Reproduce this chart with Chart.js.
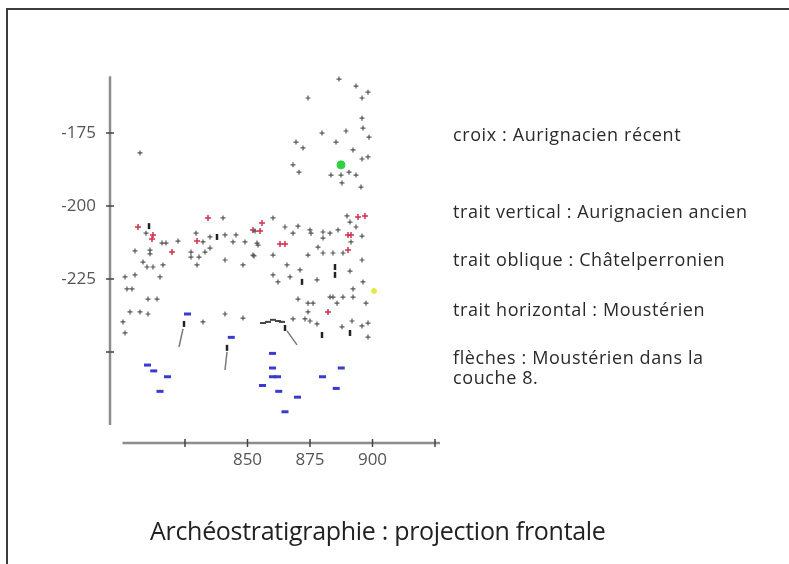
<!DOCTYPE html>
<html lang="fr">
<head>
<meta charset="utf-8">
<title>Archéostratigraphie : projection frontale</title>
<script src="https://cdn.jsdelivr.net/npm/chart.js@4.4.1/dist/chart.umd.min.js"></script>
<style>
  html, body { margin: 0; padding: 0; background: #fff; }
  #wrap { position: relative; width: 789px; height: 564px; overflow: hidden; background: #fff; }
  #wrap canvas { position: absolute; left: 0; top: 0; }
  #frame { position: absolute; left: 6px; top: 8px; right: -4px; bottom: -4px;
           border-top: 2px solid #3c3c3c; border-left: 2px solid #3c3c3c; }
  .note { position: absolute; left: 453px; font: 18px/20px "Open Sans", sans-serif; color: #2a2a2a; white-space: nowrap; letter-spacing: 0.6px; }
  #title { position: absolute; left: 150px; top: 514px; font: 25px/32px "Open Sans", sans-serif; color: #222; white-space: nowrap; letter-spacing: -0.3px; }
</style>
</head>
<body>
<div id="wrap">
  <canvas id="archeoChart"></canvas>
  <div id="frame"></div>
  <div class="note" style="top:124px">croix : Aurignacien récent</div>
  <div class="note" style="top:201px">trait vertical : Aurignacien ancien</div>
  <div class="note" style="top:249px">trait oblique : Châtelperronien</div>
  <div class="note" style="top:299px">trait horizontal : Moustérien</div>
  <div class="note" style="top:347px">flèches : Moustérien dans la<br>couche 8.</div>
  <div id="title">Archéostratigraphie : projection frontale</div>
</div>
<script>
// Axis ticks
const xTickLabels = [850, 875, 900];
const yTickLabels = [-175, -200, -225];
const xTickMarks = [825, 850, 875, 900, 925];
const yTickMarks = [-175, -200, -225, -250];

// Objects, [x, z] pairs
const croix = [
  [886.6, -156.5], [893.4, -158.9], [898.2, -161], [874.2, -163], [895.8, -163],
  [895.8, -169.9], [896.2, -173.3], [879.8, -175], [889.4, -174.3], [898.6, -176.4],
  [869.4, -178.1], [885.4, -178.1], [872.2, -180.1], [898.2, -183.2], [895.8, -183.9],
  [868.2, -185.9], [870.6, -188.4], [883.4, -189.4], [887.4, -189.4], [890.6, -188.4],
  [893.4, -189.4], [887.8, -192.1], [895.4, -193.5], [807, -181.8], [892.2, -180.8],
  [860.2, -204.1], [865, -207.2], [870.2, -206.9], [868.2, -209.3], [875, -208.2],
  [875.4, -209.3], [880.2, -208.9], [883, -209.3], [880.2, -211], [886.2, -208.2],
  [889.8, -203.4], [891, -205.5], [893.4, -207.2], [895.8, -210.3], [891.4, -212.3],
  [888.2, -216.1], [854.2, -213.4], [860.2, -216.8], [852.2, -216.8], [874.2, -216.8],
  [878.2, -214.1], [880.2, -216.1], [884.2, -216.1], [895.8, -218.5], [853, -208.6],
  [809.4, -209.3], [815.8, -212.7], [817.4, -212.7], [822.2, -212], [805, -215.4],
  [811, -215.1], [811, -216.4], [808.2, -219.2], [809.8, -220.9], [812.2, -220.9],
  [816.2, -220.2], [801, -224.3], [805, -223.6], [815, -224.3], [801.8, -228.4],
  [803.8, -228.4], [810.2, -231.9], [813.8, -231.9], [840.2, -204.1], [829.4, -209.3],
  [832.2, -212.3], [835, -210.6], [841, -209.9], [845.4, -209.9], [844.2, -212.3],
  [849, -212.3], [853.8, -212.7], [827.4, -215.8], [827.4, -217.5], [830.6, -217.5],
  [833, -215.8], [835, -214.4], [841, -218.5], [848.2, -220.2], [829.8, -220.2],
  [852.6, -217.1], [865.8, -220.2], [871, -221.9], [891, -222.3], [860.2, -223.6],
  [862.2, -226], [867, -224.3], [877.8, -225.3], [896.2, -226], [892.2, -228.4],
  [870.2, -231.9], [874.2, -233.3], [876.2, -233.3], [883, -231.2], [884.2, -231.2],
  [888.2, -231.2], [892.2, -231.2], [885.8, -233.3], [897.4, -233.3], [874.2, -236.3],
  [868.2, -238.7], [873, -238.7], [875, -239.4], [877.8, -240.4], [891.8, -239.4],
  [887.8, -241.4], [895.8, -241.1], [898.2, -240.1], [898.2, -244.9], [803, -236.3],
  [807, -236.3], [810.2, -237], [800.2, -239.7], [801, -243.5], [832.2, -239.7],
  [841, -237], [848.2, -238.4]
];
const traitsFonces = [
  [810.6, -206.9], [837.8, -210.6], [885, -220.9], [885, -223.6], [871.8, -226],
  [891, -243.5], [879.8, -244.2], [824.6, -240.4], [841.8, -248.6], [865, -241.8]
];
const traitsHorizontaux = [
  [856.2, -240.1], [858.2, -239.7], [860.2, -239], [862.2, -239.4], [863.8, -239.7]
];
const rouges = [
  [806.2, -207.2], [811.8, -211.3], [812.2, -209.9], [819.8, -215.8], [834.2, -204.1],
  [829.8, -212], [852.2, -208.2], [855.8, -205.8], [855, -208.6], [863, -213],
  [865, -213], [894.2, -203.8], [897, -203.4], [890.2, -209.9], [891.4, -209.9],
  [890.2, -215.1], [882.2, -236.3]
];
const couche8 = [
  [810, -254.5], [812.5, -256.5], [818, -258.5], [815, -263.5], [826, -237],
  [843.5, -245], [860, -250.5], [860, -255.5], [860, -258.5], [862, -258.5],
  [856, -261.5], [862.5, -263.5], [870, -265.5], [865, -270.5], [887.5, -255.5],
  [880, -258.5], [885.5, -262.5]
];
const vert = [[887.4, -185.9]];
const jaune = [[900.6, -229.1]];
const fleches = [
  [[822.6, -248.3], [824.2, -242.1]],
  [[841, -256.2], [841.8, -250]],
  [[869.8, -247.6], [865.8, -242.8]]
];

const pts = arr => arr.map(p => ({ x: p[0], y: p[1] }));

// axis lines and crossing tick marks, drawn apart like in the original
const axesLines = {
  id: 'axesLines',
  beforeDatasetsDraw(chart) {
    const { ctx, scales: { x, y } } = chart;
    const left = chart.chartArea.left;
    const bottom = chart.chartArea.bottom;
    ctx.save();
    ctx.strokeStyle = '#8c8c8c';
    ctx.lineWidth = 2.5;
    ctx.beginPath();
    ctx.moveTo(left, y.getPixelForValue(-155.5));
    ctx.lineTo(left, y.getPixelForValue(-275));
    ctx.moveTo(x.getPixelForValue(800), bottom);
    ctx.lineTo(x.getPixelForValue(927), bottom);
    ctx.stroke();
    ctx.strokeStyle = '#444';
    ctx.lineWidth = 1.5;
    ctx.beginPath();
    yTickMarks.forEach(v => {
      const py = y.getPixelForValue(v);
      ctx.moveTo(left - 4, py); ctx.lineTo(left + 4, py);
    });
    xTickMarks.forEach(v => {
      const px = x.getPixelForValue(v);
      ctx.moveTo(px, bottom - 4); ctx.lineTo(px, bottom + 4);
    });
    ctx.stroke();
    ctx.restore();
  }
};

const datasets = [
  ...fleches.map(f => ({
    data: pts(f), showLine: true, pointRadius: 0,
    borderColor: '#7a7a7a', borderWidth: 1.5
  })),
  { data: pts(croix), pointStyle: 'cross', pointRadius: 2.5, borderColor: '#555', borderWidth: 1.2 },
  { data: pts(rouges), pointStyle: 'cross', pointRadius: 3, borderColor: '#d2304e', borderWidth: 1.5 },
  { data: pts(traitsHorizontaux), pointStyle: 'line', pointRadius: 3, borderColor: '#444', borderWidth: 2 },
  { data: pts(traitsFonces), pointStyle: 'line', rotation: 90, pointRadius: 3, borderColor: '#222', borderWidth: 2.5 },
  { data: pts(couche8), pointStyle: 'line', pointRadius: 3.5, borderColor: '#3a3ad0', borderWidth: 3 },
  { data: pts(vert), pointStyle: 'circle', pointRadius: 4, backgroundColor: '#2fd043', borderColor: '#2fd043', borderWidth: 1 },
  { data: pts(jaune), pointStyle: 'circle', pointRadius: 2.5, backgroundColor: '#e8e84a', borderColor: '#e8e84a', borderWidth: 1 }
];

const ctx = document.getElementById('archeoChart').getContext('2d');
const archeoChart = new Chart(ctx, {
  type: 'scatter',
  data: { datasets },
  options: {
    responsive: true,
    maintainAspectRatio: false,
    animation: false,
    events: [],
    layout: { padding: { left: 0, top: 70, right: 349, bottom: 0 } },
    plugins: { legend: { display: false }, tooltip: { enabled: false } },
    scales: {
      x: {
        type: 'linear', min: 795, max: 927,
        grid: { display: false, drawTicks: false },
        border: { display: false },
        afterBuildTicks: s => { s.ticks = xTickLabels.map(v => ({ value: v })); },
        afterFit: s => { s.height = 121; },
        ticks: { padding: 7, color: '#555', font: { family: 'Open Sans', size: 17 } }
      },
      y: {
        type: 'linear', min: -281.2, max: -153.4,
        grid: { display: false, drawTicks: false },
        border: { display: false },
        afterBuildTicks: s => { s.ticks = yTickLabels.map(v => ({ value: v })); },
        afterFit: s => { s.width = 110; },
        ticks: { padding: 14, color: '#555', font: { family: 'Open Sans', size: 17 } }
      }
    }
  },
  plugins: [axesLines]
});
</script>
</body>
</html>
